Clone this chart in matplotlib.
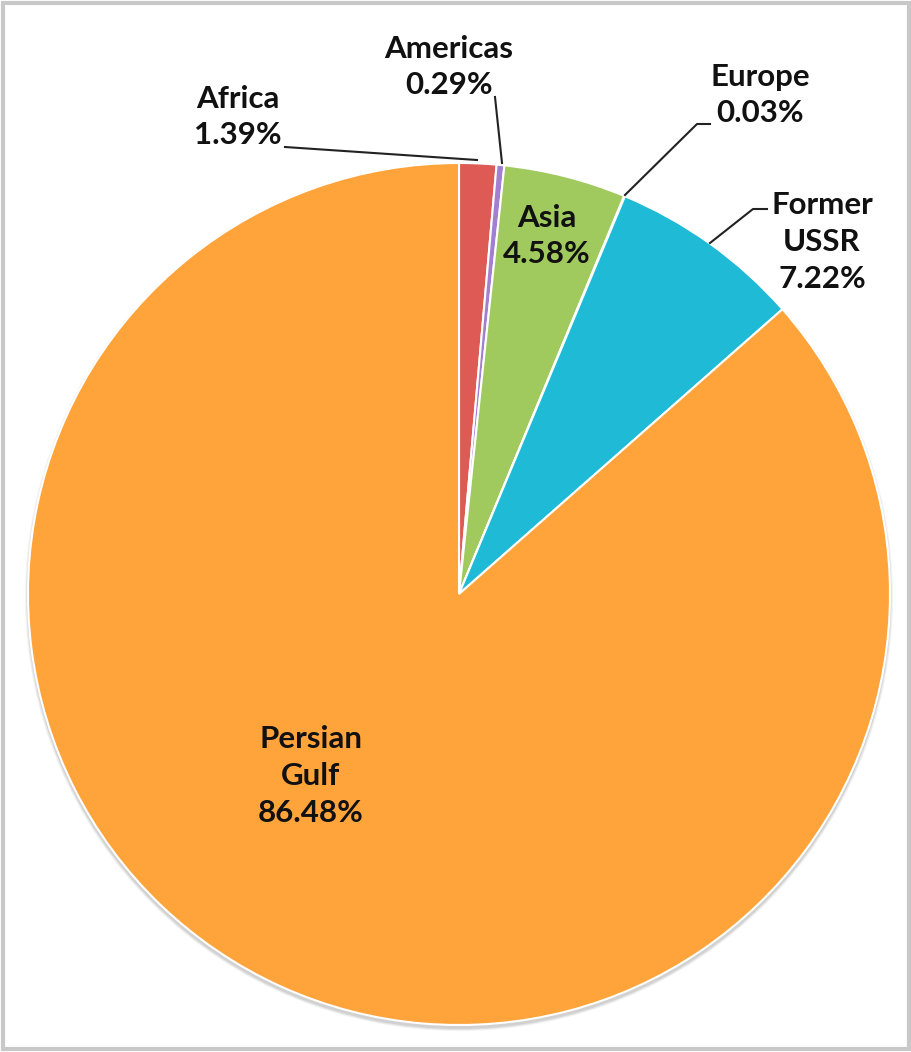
import matplotlib
matplotlib.use("Agg")
import matplotlib.pyplot as plt
from matplotlib.patches import Circle, Rectangle

categories = ["Africa", "Americas", "Asia", "Europe", "Former USSR", "Persian Gulf"]
values = [1.39, 0.29, 4.58, 0.03, 7.22, 86.48]
label_texts = ["Africa\n1.39%", "Americas\n0.29%", "Asia\n4.58%", "Europe\n0.03%",
               "Former\nUSSR\n7.22%", "Persian\nGulf\n86.48%"]
colors = ["#DE5A55", "#A47FD0", "#A0CA5E", "#8FA9C9", "#1EBAD6", "#FFA33B"]

W, H = 912, 1052
fig = plt.figure(figsize=(W / 100, H / 100), dpi=100)
ax = fig.add_axes([0, 0, 1, 1])
ax.set_xlim(0, W)
ax.set_ylim(0, H)
ax.set_aspect("equal")
ax.axis("off")

cx, cy, r = 459, H - 594, 431

# subtle shadow
for i, a in enumerate([0.05, 0.06, 0.08]):
    ax.add_patch(Circle((cx, cy - 3), r + 3 - i, facecolor="#000000", alpha=a,
                        edgecolor="none", zorder=0))

ax.pie(values, colors=colors, startangle=90, counterclock=False,
       center=(cx, cy), radius=r, frame=True,
       wedgeprops=dict(edgecolor="white", linewidth=1.5))
ax.set_xlim(0, W)
ax.set_ylim(0, H)
ax.axis("off")

font = dict(family=["Lato", "DejaVu Sans"], fontweight="bold", fontsize=22.5,
            color="#111111", ha="center", va="center", linespacing=1.38)

label_pos = [(238, 117), (449, 67), (547, 236), (760, 95), (822, 242), (311, 776)]
for txt, (x, y) in zip(label_texts, label_pos):
    ax.text(x, H - y, txt, **font)

leaders = [
    [(285, 147), (477, 160)],
    [(495, 97), (502, 163)],
    [(710, 124), (697, 124), (625, 195)],
    [(767, 209), (753, 209), (710, 243)],
]
for pts in leaders:
    xs = [p[0] for p in pts]
    ys = [H - p[1] for p in pts]
    ax.plot(xs, ys, color="#222222", linewidth=1.5, zorder=5)

# outer border
fig.patches.append(Rectangle((3 / W, 3 / H), (W - 6) / W, (H - 6) / H,
                             transform=fig.transFigure, fill=False,
                             edgecolor="#C8C8C8", linewidth=3))

fig.savefig("out.png", dpi=100, facecolor="white")
